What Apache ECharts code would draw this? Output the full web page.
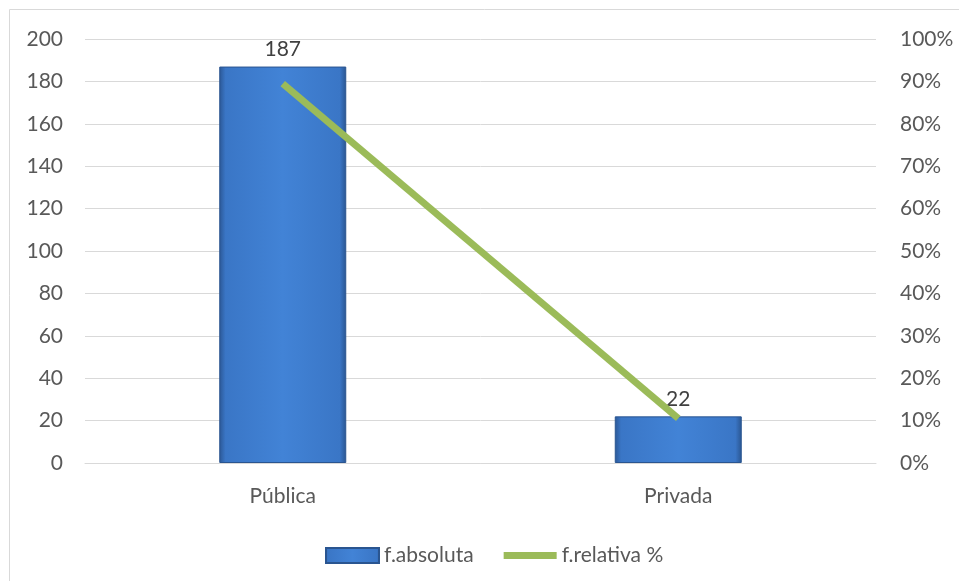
<!DOCTYPE html>
<html>
<head>
<meta charset="utf-8">
<script src="https://cdn.jsdelivr.net/npm/echarts@6/dist/echarts.min.js"></script>
<style>
html, body { margin: 0; padding: 0; background: #fff; }
#main { width: 959px; height: 581px; }
</style>
</head>
<body>
<div id="main"></div>
<script>
var categories = ['Pública', 'Privada'];
var absoluta = [187, 22];
var relativa = [89.47, 10.53];
var leftTicks = ['0', '20', '40', '60', '80', '100', '120', '140', '160', '180', '200'];

var myChart = echarts.init(document.getElementById('main'));
var FONT = 'Lato';
var TXT = '#595959';

// bar fill: darker sides, lighter centre (the bevel look of the original)
var barColor = new echarts.graphic.LinearGradient(0, 0, 1, 0, [
    { offset: 0, color: '#2b5795' },
    { offset: 0.05, color: '#3a76c6' },
    { offset: 0.5, color: '#4283d6' },
    { offset: 0.95, color: '#3a76c6' },
    { offset: 1, color: '#2a5590' }
]);

// thin green bar for the line legend: invisible dots at top/bottom keep the box 15px tall
var lineIcon = 'path://M0 0L0.01 0L0 0.01Z M0 15L0.01 15L0 14.99Z M0 4L53 4L53 11L0 11Z';

var option = {
    animation: false,
    textStyle: { fontFamily: FONT },
    graphic: [{
        // chart frame: only top and left edges fall inside the picture
        type: 'rect',
        shape: { x: 9.5, y: 9.5, width: 960, height: 600 },
        style: { fill: 'none', stroke: '#d9d9d9', lineWidth: 1 },
        silent: true
    }],
    grid: { left: 85, right: 83, top: 39, bottom: 118 },
    legend: {
        top: 540,
        left: 320,
        itemWidth: 53,
        itemHeight: 15,
        itemGap: 30,
        textStyle: { fontSize: 21, color: TXT, fontFamily: FONT, padding: [6, 0, 0, 0] },
        data: [
            { name: 'f.absoluta', icon: 'rect' },
            { name: 'f.relativa %', icon: lineIcon, itemStyle: { color: '#9bbb59' } }
        ]
    },
    xAxis: {
        type: 'category',
        data: categories,
        axisLine: { lineStyle: { color: '#d9d9d9' } },
        axisTick: { show: false },
        axisLabel: { fontSize: 21, color: TXT, margin: 23, fontFamily: FONT }
    },
    yAxis: [{
        type: 'value',
        min: 0,
        max: 200,
        interval: 20,
        axisLine: { show: false },
        axisTick: { show: false },
        axisLabel: {
            fontSize: 21, color: TXT, margin: 22, fontFamily: FONT, padding: [9, 0, 0, 0],
            formatter: function (v) { return leftTicks[v / 20]; }
        },
        splitLine: { lineStyle: { color: '#d9d9d9' } }
    }, {
        type: 'value',
        min: 0,
        max: 100,
        interval: 10,
        axisLine: { show: false },
        axisTick: { show: false },
        axisLabel: { fontSize: 21, color: TXT, margin: 24, fontFamily: FONT, padding: [9, 0, 0, 0], formatter: '{value}%' },
        splitLine: { show: false }
    }],
    series: [{
        name: 'f.absoluta',
        type: 'bar',
        data: absoluta,
        barWidth: 127,
        itemStyle: { color: barColor, borderColor: '#2a5590', borderWidth: 1 },
        label: { show: true, position: 'top', fontSize: 21, color: '#404040', distance: 7, fontFamily: FONT }
    }, {
        name: 'f.relativa %',
        type: 'line',
        yAxisIndex: 1,
        data: relativa,
        symbol: 'none',
        itemStyle: { color: '#9bbb59' },
        lineStyle: { color: '#9bbb59', width: 7 }
    }]
};
myChart.setOption(option);
</script>
</body>
</html>
